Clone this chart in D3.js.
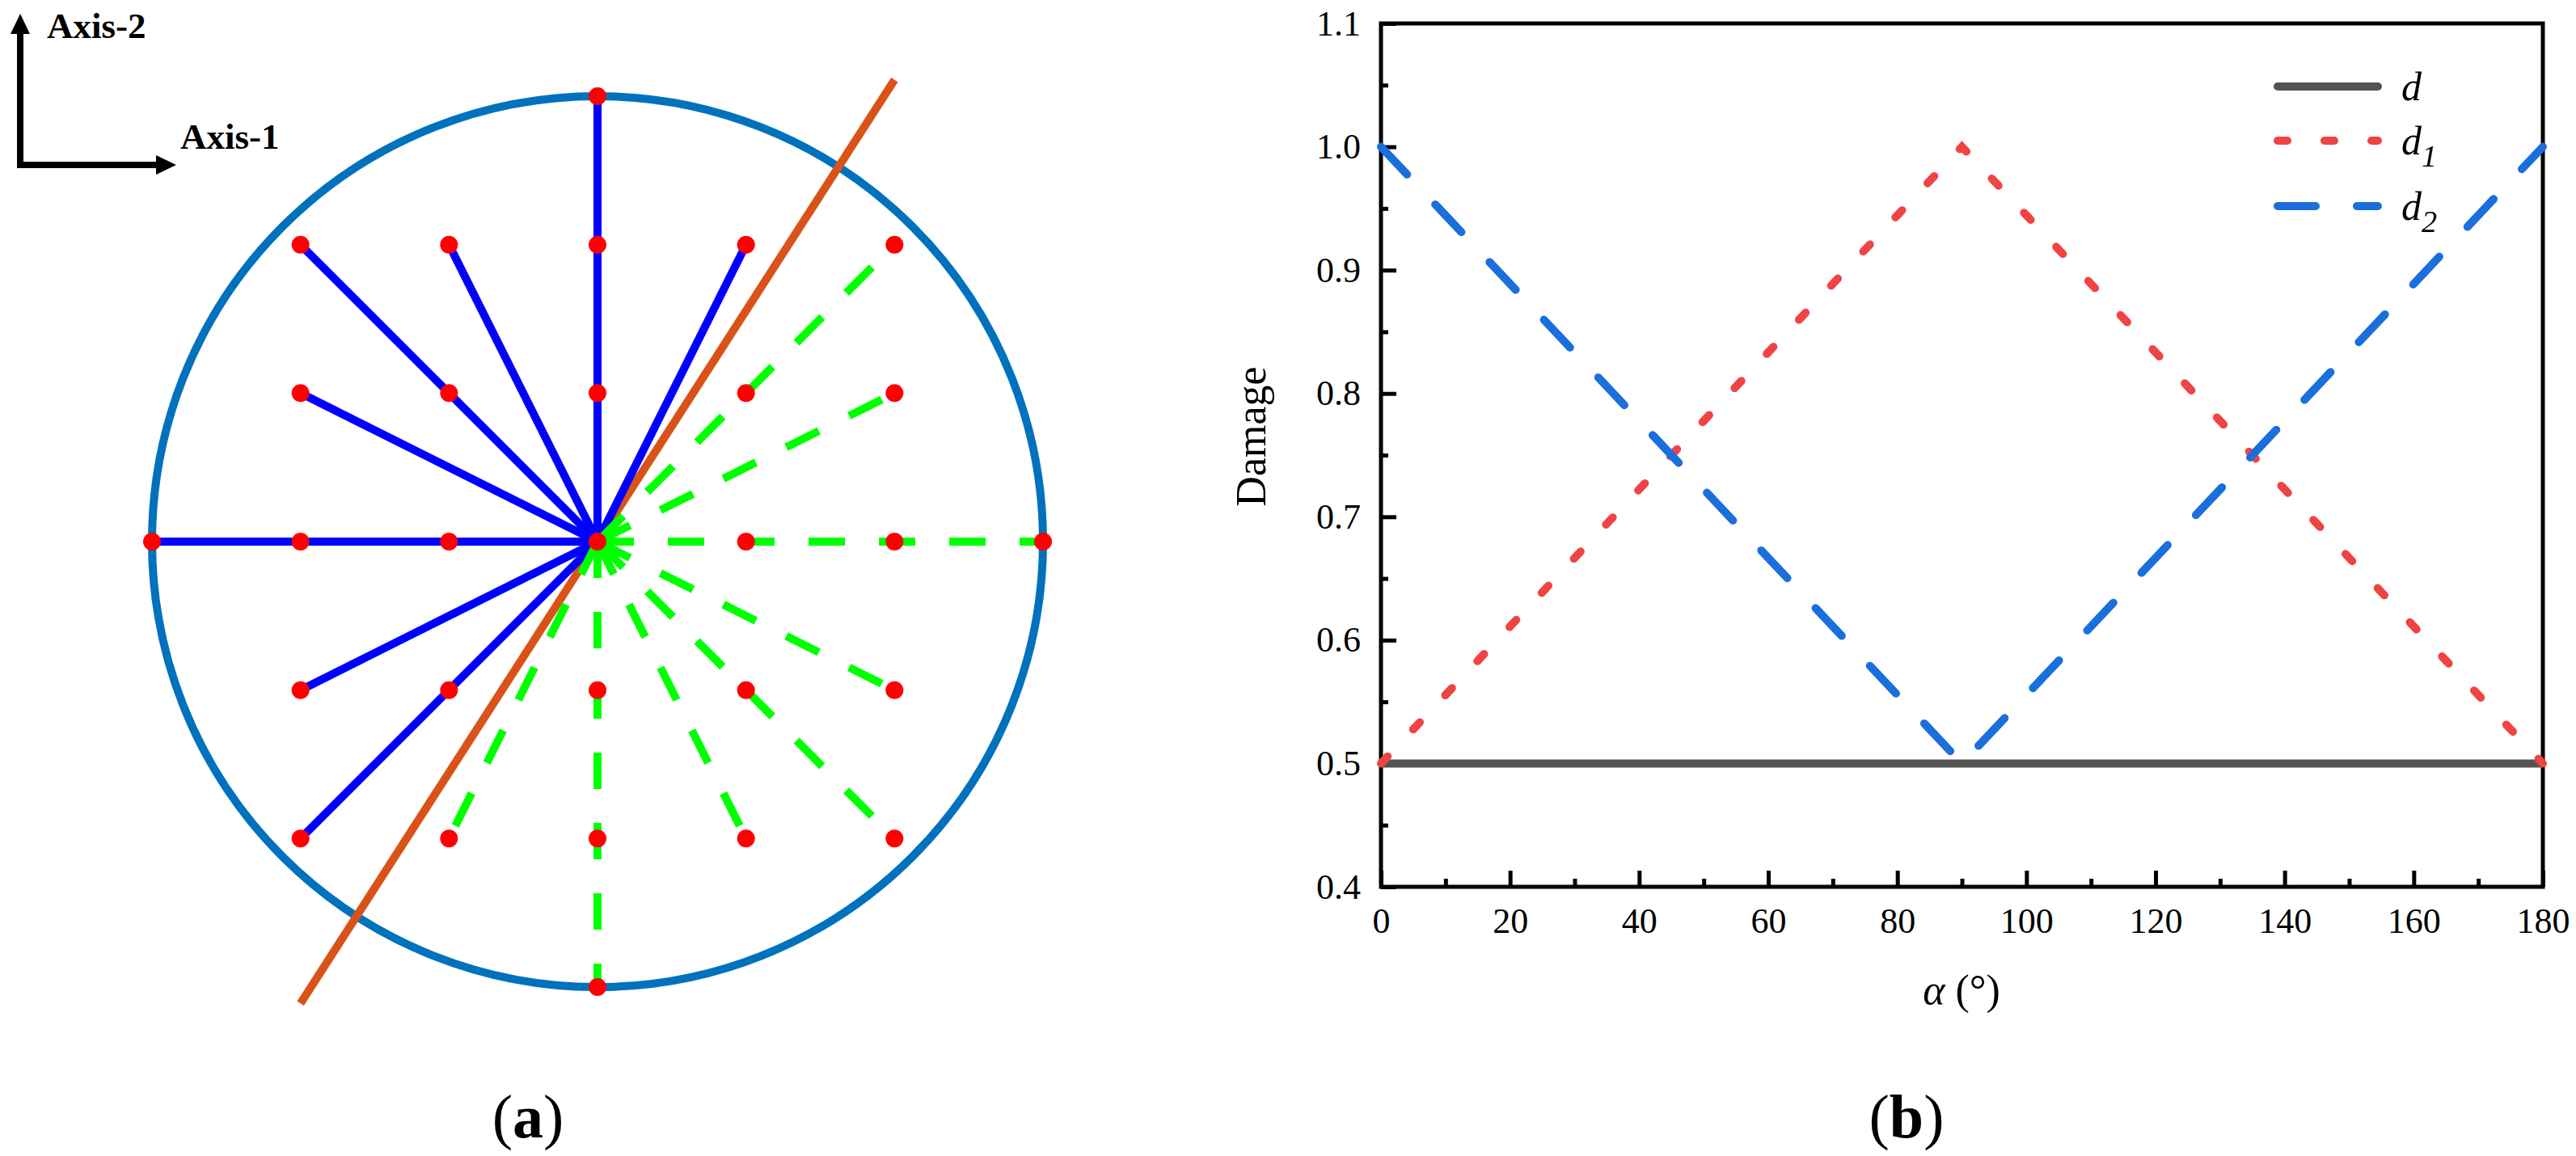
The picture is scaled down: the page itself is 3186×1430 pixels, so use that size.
<!DOCTYPE html>
<html>
<head>
<meta charset="utf-8">
<script src="https://cdn.jsdelivr.net/npm/d3@7"></script>
<style>
body { margin: 0; background: #fff; }
text { font-family: "Liberation Serif", "Times New Roman", serif; fill: #000; }
</style>
</head>
<body>
<div id="chart"></div>
<script>
// ---- panel (a): directions on a grid, one unit = one grid step, circle radius 3
var dotsA = [
    [-2, 2], [-1, 2], [0, 2], [1, 2], [2, 2],
    [-2, 1], [-1, 1], [0, 1], [1, 1], [2, 1],
    [-3, 0], [-2, 0], [-1, 0], [0, 0], [1, 0], [2, 0], [3, 0],
    [-2, -1], [-1, -1], [0, -1], [1, -1], [2, -1],
    [-2, -2], [-1, -2], [0, -2], [1, -2], [2, -2],
    [0, 3], [0, -3]
];
var blueEnds = [[-2, 2], [-1, 2], [0, 3], [1, 2], [-2, 1], [-3, 0], [-2, -1], [-2, -2]];
var greenEnds = [[2, 2], [2, 1], [3, 0], [2, -1], [2, -2], [1, -2], [0, -3], [-1, -2]];
var splitLine = [[-2, -3.11], [2, 3.11]];
var circleR = 3;

// ---- panel (b): damage vs alpha
var alpha = [0, 90, 180];
var dVals = [0.5, 0.5, 0.5];
var d1Vals = [0.5, 1.0, 0.5];
var d2Vals = [1.0, 0.5, 1.0];
var yTicks = [0.4, 0.5, 0.6, 0.7, 0.8, 0.9, 1.0, 1.1];
var yMinor = [0.45, 0.55, 0.65, 0.75, 0.85, 0.95, 1.05];
var xTicks = [0, 20, 40, 60, 80, 100, 120, 140, 160, 180];
var xMinor = [10, 30, 50, 70, 90, 110, 130, 150, 170];
var seriesSub = ["", "1", "2"];
var seriesColor = ["#535353", "#f04343", "#1a6fdc"];
var seriesDash = [null, "12 46", "47 51"];

var W = 3186, H = 1430;
var svg = d3.select("#chart").append("svg")
    .attr("width", W)
    .attr("height", H);

// ================= panel (a)
var ax = d3.scaleLinear().domain([-3, 3]).range([188, 1290]);
var ay = d3.scaleLinear().domain([-3, 3]).range([1221, 119]);
var ga = svg.append("g");

ga.append("circle")
    .attr("cx", ax(0))
    .attr("cy", ay(0))
    .attr("r", ax(circleR) - ax(0))
    .attr("fill", "none")
    .attr("stroke", "#0072bd")
    .attr("stroke-width", 10);

ga.append("line")
    .attr("x1", ax(splitLine[0][0]))
    .attr("y1", ay(splitLine[0][1]))
    .attr("x2", ax(splitLine[1][0]))
    .attr("y2", ay(splitLine[1][1]))
    .attr("stroke", "#d95319")
    .attr("stroke-width", 10);

ga.selectAll("line.blue")
    .data(blueEnds)
    .enter()
    .append("line")
    .attr("class", "blue")
    .attr("x1", ax(0))
    .attr("y1", ay(0))
    .attr("x2", (d) => ax(d[0]))
    .attr("y2", (d) => ay(d[1]))
    .attr("stroke", "#0000ff")
    .attr("stroke-width", 10);

ga.selectAll("line.green")
    .data(greenEnds)
    .enter()
    .append("line")
    .attr("class", "green")
    .attr("x1", ax(0))
    .attr("y1", ay(0))
    .attr("x2", (d) => ax(d[0]))
    .attr("y2", (d) => ay(d[1]))
    .attr("stroke", "#00ff00")
    .attr("stroke-width", 10)
    .attr("stroke-dasharray", "45 42");

ga.selectAll("circle.dot")
    .data(dotsA)
    .enter()
    .append("circle")
    .attr("class", "dot")
    .attr("cx", (d) => ax(d[0]))
    .attr("cy", (d) => ay(d[1]))
    .attr("r", 11)
    .attr("fill", "#ff0000");

// axis arrows, top-left
ga.append("path")
    .attr("d", "M25,40 L25,204 L195,204")
    .attr("fill", "none")
    .attr("stroke", "#000")
    .attr("stroke-width", 8);
ga.append("path").attr("d", "M13,42 L37,42 L25,17 Z").attr("fill", "#000");
ga.append("path").attr("d", "M193,192 L193,216 L218,204 Z").attr("fill", "#000");
ga.append("text")
    .attr("x", 58).attr("y", 47)
    .attr("font-size", "45px").attr("font-weight", "bold")
    .text("Axis-2");
ga.append("text")
    .attr("x", 223).attr("y", 184)
    .attr("font-size", "45px").attr("font-weight", "bold")
    .text("Axis-1");

var labA = ga.append("text")
    .attr("x", 653).attr("y", 1407)
    .attr("font-size", "76px")
    .attr("text-anchor", "middle");
labA.append("tspan").text("(");
labA.append("tspan").attr("font-weight", "bold").text("a");
labA.append("tspan").text(")");

// ================= panel (b)
var margin = { left: 1708, top: 29 };
var pw = 3145 - 1708, ph = 1097 - 29;
var gb = svg.append("g")
    .attr("transform", "translate(" + margin.left + ", " + margin.top + ")");

var x = d3.scaleLinear().domain([0, 180]).range([0, pw]);
var y = d3.scaleLinear().domain([0.4, 1.1]).range([ph, 0]);

var xAxisCall = d3.axisBottom(x).tickValues(xTicks).tickSize(-20).tickPadding(26)
    .tickFormat(d3.format("d"));
var xMinorCall = d3.axisBottom(x).tickValues(xMinor).tickSize(-10).tickFormat("");
var yAxisCall = d3.axisLeft(y).tickValues(yTicks).tickSize(-19).tickPadding(25)
    .tickFormat(d3.format(".1f"));
var yMinorCall = d3.axisLeft(y).tickValues(yMinor).tickSize(-9).tickFormat("");

[[xAxisCall, "x"], [xMinorCall, "x"], [yAxisCall, "y"], [yMinorCall, "y"]].forEach(function (a) {
    var g = gb.append("g")
        .attr("transform", a[1] == "x" ? "translate(0," + ph + ")" : null)
        .call(a[0]);
    g.select(".domain").remove();
    g.selectAll(".tick line").attr("stroke", "#000").attr("stroke-width", 5);
    g.selectAll(".tick text")
        .attr("font-family", "Liberation Serif")
        .attr("font-size", "44px")
        .attr("fill", "#000");
});

// frame
gb.append("rect")
    .attr("x", 0).attr("y", 0)
    .attr("width", pw).attr("height", ph)
    .attr("fill", "none")
    .attr("stroke", "#000")
    .attr("stroke-width", 5);

var series = [dVals, d1Vals, d2Vals];
var line = d3.line()
    .x((d, i) => x(alpha[i]))
    .y((d) => y(d));

gb.selectAll("path.series")
    .data(series)
    .enter()
    .append("path")
    .attr("class", "series")
    .attr("d", line)
    .attr("fill", "none")
    .attr("stroke", (d, i) => seriesColor[i])
    .attr("stroke-width", 10)
    .attr("stroke-linecap", (d, i) => i == 0 ? "butt" : "round")
    .attr("stroke-dasharray", (d, i) => seriesDash[i]);

// legend
var legY = [107, 174, 255];
var leg = svg.append("g");
leg.selectAll("line")
    .data(seriesSub)
    .enter()
    .append("line")
    .attr("x1", 2817)
    .attr("x2", 2941)
    .attr("y1", (d, i) => legY[i])
    .attr("y2", (d, i) => legY[i])
    .attr("stroke", (d, i) => seriesColor[i])
    .attr("stroke-width", 10)
    .attr("stroke-linecap", "round")
    .attr("stroke-dasharray", (d, i) => seriesDash[i]);
var legText = leg.selectAll("text")
    .data(seriesSub)
    .enter()
    .append("text")
    .attr("x", 2970)
    .attr("y", (d, i) => legY[i] + 17)
    .attr("font-size", "50px")
    .attr("font-style", "italic");
legText.append("tspan").text("d");
legText.append("tspan")
    .attr("font-size", "38px")
    .attr("dy", 15)
    .text((d) => d);

// axis titles
svg.append("text")
    .attr("transform", "translate(1565, 540) rotate(-90)")
    .attr("text-anchor", "middle")
    .attr("font-size", "52px")
    .text("Damage");
var xl = svg.append("text")
    .attr("x", 2426).attr("y", 1242)
    .attr("text-anchor", "middle")
    .attr("font-size", "52px");
xl.append("tspan").attr("font-style", "italic").text("α");
xl.append("tspan").text(" (°)");

var labB = svg.append("text")
    .attr("x", 2358).attr("y", 1407)
    .attr("font-size", "76px")
    .attr("text-anchor", "middle");
labB.append("tspan").text("(");
labB.append("tspan").attr("font-weight", "bold").text("b");
labB.append("tspan").text(")");
</script>
</body>
</html>
